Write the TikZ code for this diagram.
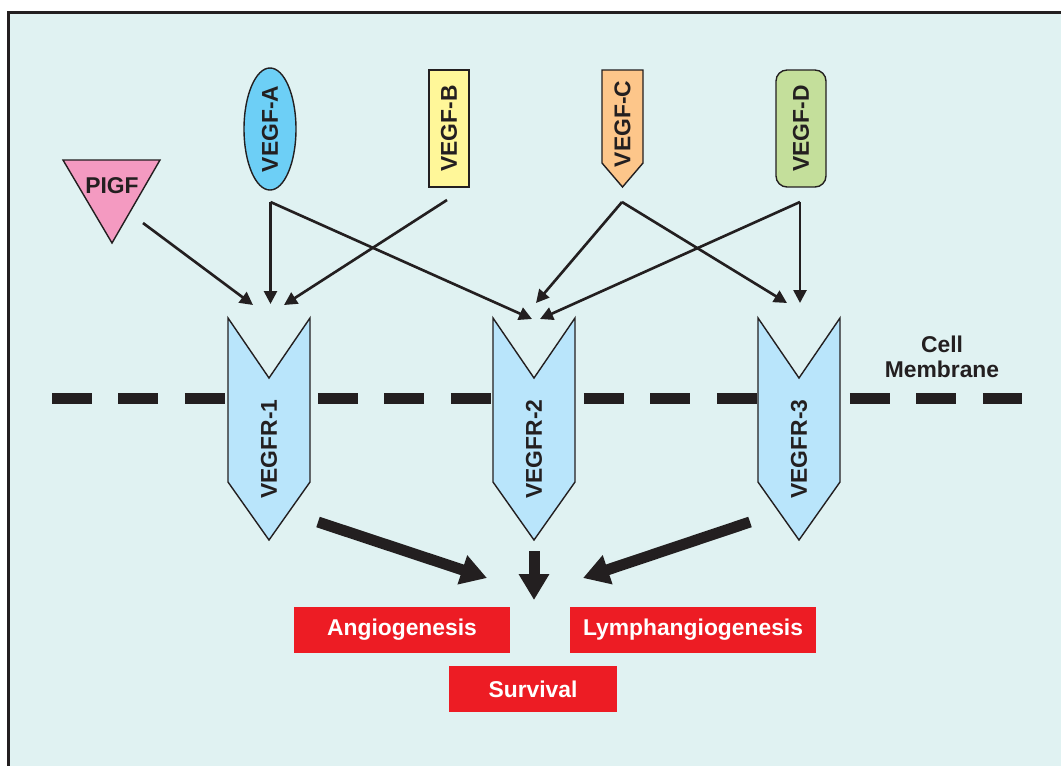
\documentclass[tikz,border=0pt]{standalone}
\usepackage{fontspec}
\setmainfont{Liberation Sans}
\usetikzlibrary{arrows.meta,positioning,shapes.geometric}

\definecolor{bgcyan}{HTML}{E0F2F2}
\definecolor{pigfpink}{HTML}{F49AC1}
\definecolor{vegfablue}{HTML}{6DCFF6}
\definecolor{vegfbyellow}{HTML}{FFF799}
\definecolor{vegfcorange}{HTML}{FDC68A}
\definecolor{vegfdgreen}{HTML}{C4DF9B}
\definecolor{receptorblue}{HTML}{B9E5FB}
\definecolor{outred}{HTML}{ED1C24}
\definecolor{inkdark}{HTML}{231F20}

\tikzset{
  lbl/.style={font=\bfseries\fontsize{13}{14.5}\selectfont, text=inkdark, inner sep=0pt},
  ligand/.style={draw=inkdark, line width=0.8pt, rotate=90, lbl},
  thinarrow/.style={draw=inkdark, line width=1.5pt, -{Triangle[length=0.26cm,width=0.26cm]}},
  fatarrow/.style={draw=inkdark, line width=0.22cm, -{Triangle[length=0.52cm,width=0.58cm]}},
  outcome/.style={fill=outred, text=white, font=\bfseries\fontsize{13}{14.5}\selectfont, minimum height=0.92cm, inner sep=0pt}
}

\begin{document}
\begin{tikzpicture}[x=0.02cm, y=-0.02cm]
			\useasboundingbox (0,0) rectangle (1061,765);

			% Background and frame
			\fill[white] (0,0) rectangle (1061,765);
			\draw[draw=inkdark, line width=0.06cm, fill=bgcyan] (8.5,12.5) rectangle (1080,790);

			% Ligands
			\draw[draw=inkdark, line width=0.8pt, fill=pigfpink] (63,160) -- (160,160) -- (112,243) -- cycle;
			\node[lbl] (pigf) at (112,186) {PIGF};
			\node[ligand, ellipse, fill=vegfablue, minimum width=2.36cm, minimum height=1.04cm] (vegfa) at (270,129) {VEGF-A};
			\node[ligand, rectangle, fill=vegfbyellow, minimum width=2.34cm, minimum height=0.8cm] (vegfb) at (449,128.5) {VEGF-B};
			\draw[draw=inkdark, line width=0.8pt, fill=vegfcorange] (602,70) -- (643,70) -- (643,163) -- (622.5,187) -- (602,163) -- cycle;
			\node[lbl, rotate=90] (vegfc) at (622.5,124) {VEGF-C};
			\node[ligand, rectangle, rounded corners=0.22cm, fill=vegfdgreen, minimum width=2.34cm, minimum height=1.0cm] (vegfd) at (801,128.5) {VEGF-D};

			% Cell membrane
			\draw[inkdark, line width=0.22cm, dash pattern=on 0.8cm off 0.53cm] (52,398) -- (1022,398);
			\node[lbl, align=center] (membrane) at (942,357) {Cell\\Membrane};

			% Receptors
			\foreach \cx/\n in {269/1, 534/2, 799/3} {
				\draw[draw=inkdark, line width=0.8pt, fill=receptorblue] (\cx-41,318) -- (\cx,378) -- (\cx+41,318) -- (\cx+41,482) -- (\cx,540) -- (\cx-41,482) -- cycle;
				\node[lbl, rotate=90] (vegfr\n) at (\cx,449) {VEGFR-\n};
			}

			% Binding points
			\coordinate (pigf-out) at (143,223);
			\coordinate (a-out) at (270.5,202);
			\coordinate (b-out) at (447,200);
			\coordinate (c-out) at (622,202);
			\coordinate (d-out) at (800,202);
			\coordinate (r1-in-l) at (253,305);
			\coordinate (r1-in-m) at (270.5,304);
			\coordinate (r1-in-r) at (284,305);
			\coordinate (r2-in-l) at (532,319);
			\coordinate (r2-in-m) at (536,303);
			\coordinate (r2-in-r) at (540,319);
			\coordinate (r3-in-l) at (787,303);
			\coordinate (r3-in-m) at (800,303);

			% Ligand to receptor arrows
			\draw[thinarrow] (pigf-out) -- (r1-in-l);
			\draw[thinarrow] (a-out) -- (r1-in-m);
			\draw[thinarrow] (a-out) -- (r2-in-l);
			\draw[thinarrow] (b-out) -- (r1-in-r);
			\draw[thinarrow] (c-out) -- (r2-in-m);
			\draw[thinarrow] (c-out) -- (r3-in-l);
			\draw[thinarrow] (d-out) -- (r2-in-r);
			\draw[thinarrow] (d-out) -- (r3-in-m);

			% Outcomes
			\node[outcome, minimum width=4.32cm] (angio) at (402,630) {Angiogenesis};
			\node[outcome, minimum width=4.92cm] (lymph) at (693,630) {Lymphangiogenesis};
			\node[outcome, minimum width=3.36cm] (surv) at (533,689) {Survival};

			% Receptor to outcome arrows
			\coordinate (r1-out) at (318,522);
			\coordinate (r2-out) at (534,551);
			\coordinate (r3-out) at (750,522);
			\coordinate (fate-l) at (487,578);
			\coordinate (fate-m) at (534,600);
			\coordinate (fate-r) at (583,578);
			\draw[fatarrow] (r1-out) -- (fate-l);
			\draw[fatarrow] (r2-out) -- (fate-m);
			\draw[fatarrow] (r3-out) -- (fate-r);

		\end{tikzpicture}
\end{document}
